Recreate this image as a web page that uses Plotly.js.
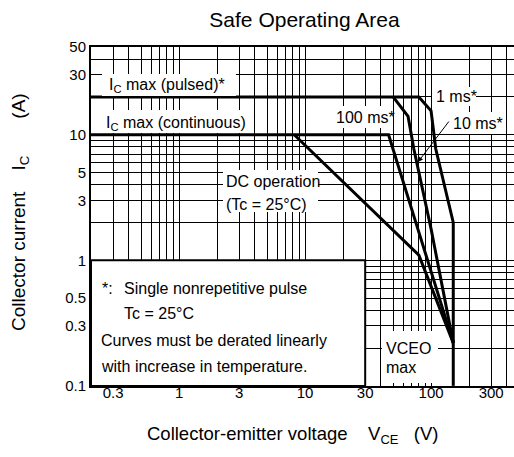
<!DOCTYPE html>
<html><head><meta charset="utf-8">
<script src="https://cdn.plot.ly/plotly-3.0.1.min.js"></script>
<style>html,body{margin:0;padding:0;overflow:hidden;background:#fff}</style>
</head><body><div id="chart" style="width:514px;height:457px"></div>
<script>
// ---------- data ----------
const ms1V   = [0.2, 80, 100, 109, 150];
const ms1I   = [20, 20, 15.5, 7.7, 2.0];
const ms10V  = [50, 65.7, 73, 100, 150];
const ms10I  = [20, 14, 7.7, 1.78, 0.22];
const ms100V = [0.2, 46, 78.5, 150];
const ms100I = [10, 10, 1.78, 0.22];
const dcV    = [8.2, 80, 150];
const dcI    = [10, 1.1, 0.22];
const vceoV  = [150, 150];
const vceoI  = [0.1, 2.0];

const xGridVals = [0.3,0.4,0.5,0.6,0.7,0.8,0.9,1,2,3,4,5,6,7,8,9,10,20,30,40,50,60,70,80,90,100,200,300,400];
const xLabelVals = [0.3, 1, 3, 10, 30, 100, 300];
const xLabelText = ['0.3','1','3','10','30','100','300'];
const yGridVals = [0.1,0.2,0.3,0.4,0.5,0.6,0.7,0.8,0.9,1,2,3,4,5,6,7,8,9,10,20,30,40,50];
const yLabelVals = [0.1, 0.3, 0.5, 1, 3, 5, 10, 30, 50];
const yLabelText = ['0.1','0.3','0.5','1','3','5','10','30','50'];

// ---------- layout geometry ----------
const W = 514, H = 457;
const M = {l: 91, r: 0, t: 47, b: 71};
const pw = W - M.l - M.r, ph = H - M.t - M.b;
const xr = [Math.log10(0.2), Math.log10(0.2) + pw / 126];
const yr = [-1.001, Math.log10(50)];
const FONT = 'Liberation Sans, Arial, Helvetica, sans-serif';
const px = p => (p - M.l) / pw;
const py = p => (H - M.b - p) / ph;
const dx = v => (Math.log10(v) - xr[0]) / (xr[1] - xr[0]);
const dy = v => (Math.log10(v) - yr[0]) / (yr[1] - yr[0]);

function tickText(grid, vals, txt) {
  return grid.map(g => { const k = vals.indexOf(g); return k >= 0 ? txt[k] : ''; });
}

const line = {color: '#000', width: 3};
const traces = [
  {x: ms1V, y: ms1I, name: '1 ms*'},
  {x: ms10V, y: ms10I, name: '10 ms*'},
  {x: ms100V, y: ms100I, name: '100 ms*'},
  {x: dcV, y: dcI, name: 'DC operation'},
  {x: vceoV, y: vceoI, name: 'VCEO max'}
].map(t => Object.assign(t, {type: 'scatter', mode: 'lines', line: line, hoverinfo: 'skip'}));

// white label backgrounds (pixel boxes) that interrupt the grid
const masks = [
  [102, 74, 236, 96],
  [100, 110, 250, 133],
  [223, 170, 318, 212],
  [332, 106, 393, 128],
  [432, 87, 476, 106],
  [449, 112, 503, 134],
  [382, 331, 438, 383]
];
const shapes = masks.map(m => ({
  type: 'rect', xref: 'paper', yref: 'paper', layer: 'above',
  x0: px(m[0]), x1: px(m[2]), y0: py(m[3]), y1: py(m[1]),
  fillcolor: '#fff', line: {width: 0}
}));
// note box (0.2..30 V, 0.1..1 A)
shapes.push({type: 'rect', xref: 'paper', yref: 'paper', layer: 'above',
  x0: 0, x1: dx(30), y0: 0, y1: dy(1), fillcolor: '#fff', line: {color: '#000', width: 2}});

function ann(text, x, y, opts) {
  return Object.assign({text: text, xref: 'paper', yref: 'paper', x: px(x), y: py(y),
    xanchor: 'left', yanchor: 'middle', showarrow: false,
    font: {family: FONT, size: 16, color: '#000'}}, opts || {});
}
const NB = '\u00a0';
const annotations = [
  ann('I<sub>C</sub> max (pulsed)*', 107, 86),
  ann('I<sub>C</sub> max (continuous)', 104, 123),
  ann('DC operation', 224, 181),
  ann('(Tc = 25°C)', 224, 204),
  ann('100 ms*', 334, 117),
  ann('1 ms*', 434, 96.5),
  ann('10 ms*', 451, 123),
  ann('*:', 100, 288),
  ann('Single nonrepetitive pulse', 122, 288),
  ann('Tc = 25°C', 122, 313),
  ann('Curves must be derated linearly', 99, 340),
  ann('with increase in temperature.', 99, 366),
  ann('VCEO', 384, 348),
  ann('max', 384, 367),
  ann('Collector-emitter voltage' + NB + NB + NB + ' V<sub>CE</sub>' + NB + NB + ' (V)', 292.5, 435,
      {xanchor: 'center', font: {family: FONT, size: 18.5, color: '#000'}}),
  ann('Collector current' + NB + NB + NB + ' I<sub>C</sub>' + NB + NB + NB + NB + NB + NB + ' (A)', 20, 212,
      {xanchor: 'center', textangle: -90, font: {family: FONT, size: 19, color: '#000'}}),
  {text: '', xref: 'paper', yref: 'paper', x: px(418), y: py(162), ax: 32, ay: -42,
   showarrow: true, arrowhead: 2, arrowsize: 1, arrowwidth: 1, arrowcolor: '#000'}
];

const layout = {
  width: W, height: H, margin: M, showlegend: false,
  paper_bgcolor: '#fff', plot_bgcolor: '#fff',
  font: {family: FONT, size: 15, color: '#000'},
  title: {text: 'Safe Operating Area', font: {family: FONT, size: 21, color: '#000'},
          xref: 'paper', x: px(304.5), xanchor: 'center', yref: 'container', y: 1 - 20 / H, yanchor: 'middle'},
  xaxis: {type: 'log', range: xr, tickmode: 'array', tickvals: xGridVals,
          ticktext: tickText(xGridVals, xLabelVals, xLabelText),
          showgrid: true, gridcolor: '#000', gridwidth: 1, ticks: '', ticklabelstandoff: -8,
          showline: true, linecolor: '#000', linewidth: 2, mirror: true,
          tickfont: {size: 15}, zeroline: false, fixedrange: true},
  yaxis: {type: 'log', range: yr, tickmode: 'array', tickvals: yGridVals,
          ticktext: tickText(yGridVals, yLabelVals, yLabelText),
          showgrid: true, gridcolor: '#000', gridwidth: 1, ticks: '',
          showline: true, linecolor: '#000', linewidth: 2, mirror: false,
          tickfont: {size: 15}, zeroline: false, fixedrange: true},
  shapes: shapes,
  annotations: annotations
};
Plotly.newPlot('chart', traces, layout, {displayModeBar: false, staticPlot: true});
</script></body></html>
